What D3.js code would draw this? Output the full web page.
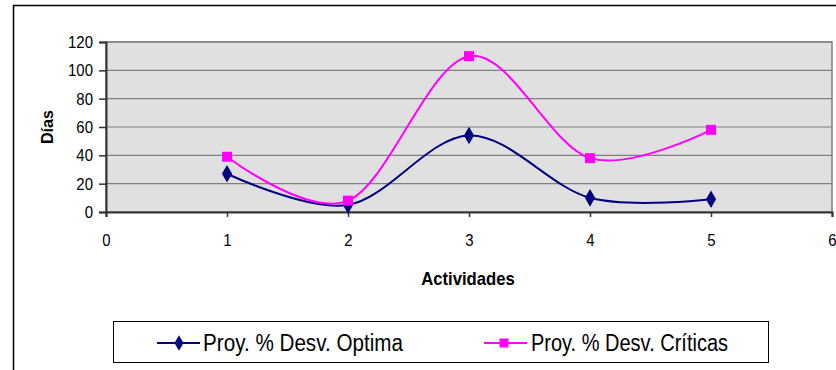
<!DOCTYPE html>
<html><head><meta charset="utf-8">
<script src="https://cdn.jsdelivr.net/npm/d3@7"></script>
<style>
body{margin:0;background:#fff;}
text{font-family:"Liberation Sans",Arial,sans-serif;fill:#000;}
</style></head>
<body><svg id="c" width="836" height="370"></svg>
<script>
const activities = [1, 2, 3, 4, 5];
const optima = [27, 5, 54, 10, 9];
const criticas = [39, 8, 110, 38, 58];
const seriesNames = ["Proy. % Desv. Optima", "Proy. % Desv. Críticas"];
const xTicks = [0, 1, 2, 3, 4, 5, 6];
const yTicks = [0, 20, 40, 60, 80, 100, 120];

const svg = d3.select("#c");
function condense(sel, f) {
  sel.each(function () {
    const w = this.getComputedTextLength();
    d3.select(this).attr("textLength", w * f).attr("lengthAdjust", "spacingAndGlyphs");
  });
}
// outer chart border
svg.append("rect").attr("x", 13.5).attr("y", 5.5).attr("width", 830).attr("height", 380)
  .attr("fill", "#fff").attr("stroke", "#000").attr("stroke-width", 1.5);

const L = 106, R = 832, T = 42, B = 212;
const x = d3.scaleLinear().domain([0, 6]).range([L, R]);
const y = d3.scaleLinear().domain([0, 120]).range([B, T]);

svg.append("rect").attr("x", L).attr("y", T).attr("width", R - L).attr("height", B - T)
  .attr("fill", "#e0e0e0").attr("stroke", "#808080").attr("stroke-width", 1.5);

svg.append("g").selectAll("line").data(yTicks.slice(1)).join("line")
  .attr("x1", L).attr("x2", R).attr("y1", d => y(d)).attr("y2", d => y(d))
  .attr("stroke", "#808080").attr("stroke-width", 1.2);

const yAxis = svg.append("g").attr("transform", `translate(${L},0)`)
  .call(d3.axisLeft(y).tickValues(yTicks).tickFormat(d3.format("d")).tickSize(7).tickPadding(6));
const xAxis = svg.append("g").attr("transform", `translate(0,${B})`)
  .call(d3.axisBottom(x).tickValues(xTicks).tickFormat(d3.format("d")).tickSize(5).tickPadding(17));
[yAxis, xAxis].forEach(a => {
  a.select(".domain").attr("stroke", "#333").attr("stroke-width", 2);
  a.selectAll(".tick line").attr("stroke", "#333").attr("stroke-width", 1.5);
  a.selectAll("text").attr("font-size", 17).style("font-family", '"Liberation Sans",Arial,sans-serif');
  condense(a.selectAll("text"), 0.88);
});

const yl = svg.append("text").attr("transform", "translate(53,127) rotate(-90)")
  .attr("text-anchor", "middle").attr("font-size", 17).attr("font-weight", "bold").text("Días");
condense(yl, 0.95);
const xl = svg.append("text").attr("x", 468).attr("y", 285)
  .attr("text-anchor", "middle").attr("font-size", 18.5).attr("font-weight", "bold").text("Actividades");
condense(xl, 0.9);

const line = d3.line().x((d, i) => x(activities[i])).y(d => y(d)).curve(d3.curveCardinal.tension(0));
const colors = ["#000080", "#ff00ff"];
[optima, criticas].forEach((data, k) => {
  svg.append("path").datum(data).attr("d", line).attr("fill", "none")
    .attr("stroke", colors[k]).attr("stroke-width", 2);
});
const diamond = d3.symbol().type(d3.symbolDiamond).size(90);
svg.append("g").selectAll("path").data(optima).join("path")
  .attr("transform", (d, i) => `translate(${x(activities[i])},${y(d)})`)
  .attr("d", diamond).attr("fill", colors[0]);
svg.append("g").selectAll("rect").data(criticas).join("rect")
  .attr("x", (d, i) => x(activities[i]) - 5).attr("y", d => y(d) - 5)
  .attr("width", 10).attr("height", 10).attr("fill", colors[1]);

// legend
const lg = svg.append("g");
lg.append("rect").attr("x", 113.5).attr("y", 321.5).attr("width", 655).attr("height", 41)
  .attr("fill", "#fff").attr("stroke", "#000").attr("stroke-width", 1);
const items = [{x0: 157, tx: 203, tl: 200}, {x0: 484, tx: 531, tl: 197}];
items.forEach((it, k) => {
  const cy = 343;
  lg.append("line").attr("x1", it.x0).attr("x2", it.x0 + 43).attr("y1", cy).attr("y2", cy)
    .attr("stroke", colors[k]).attr("stroke-width", 2);
  if (k === 0) {
    lg.append("path").attr("transform", `translate(${it.x0 + 22},${cy})`)
      .attr("d", d3.symbol().type(d3.symbolDiamond).size(70)).attr("fill", colors[0]);
  } else {
    lg.append("rect").attr("x", it.x0 + 20 - 4.5).attr("y", cy - 4.5).attr("width", 9).attr("height", 9).attr("fill", colors[1]);
  }
  const t = lg.append("text").attr("x", it.tx).attr("y", cy + 8).attr("font-size", 23).text(seriesNames[k]);
  t.attr("textLength", it.tl).attr("lengthAdjust", "spacingAndGlyphs");
});
</script></body></html>
